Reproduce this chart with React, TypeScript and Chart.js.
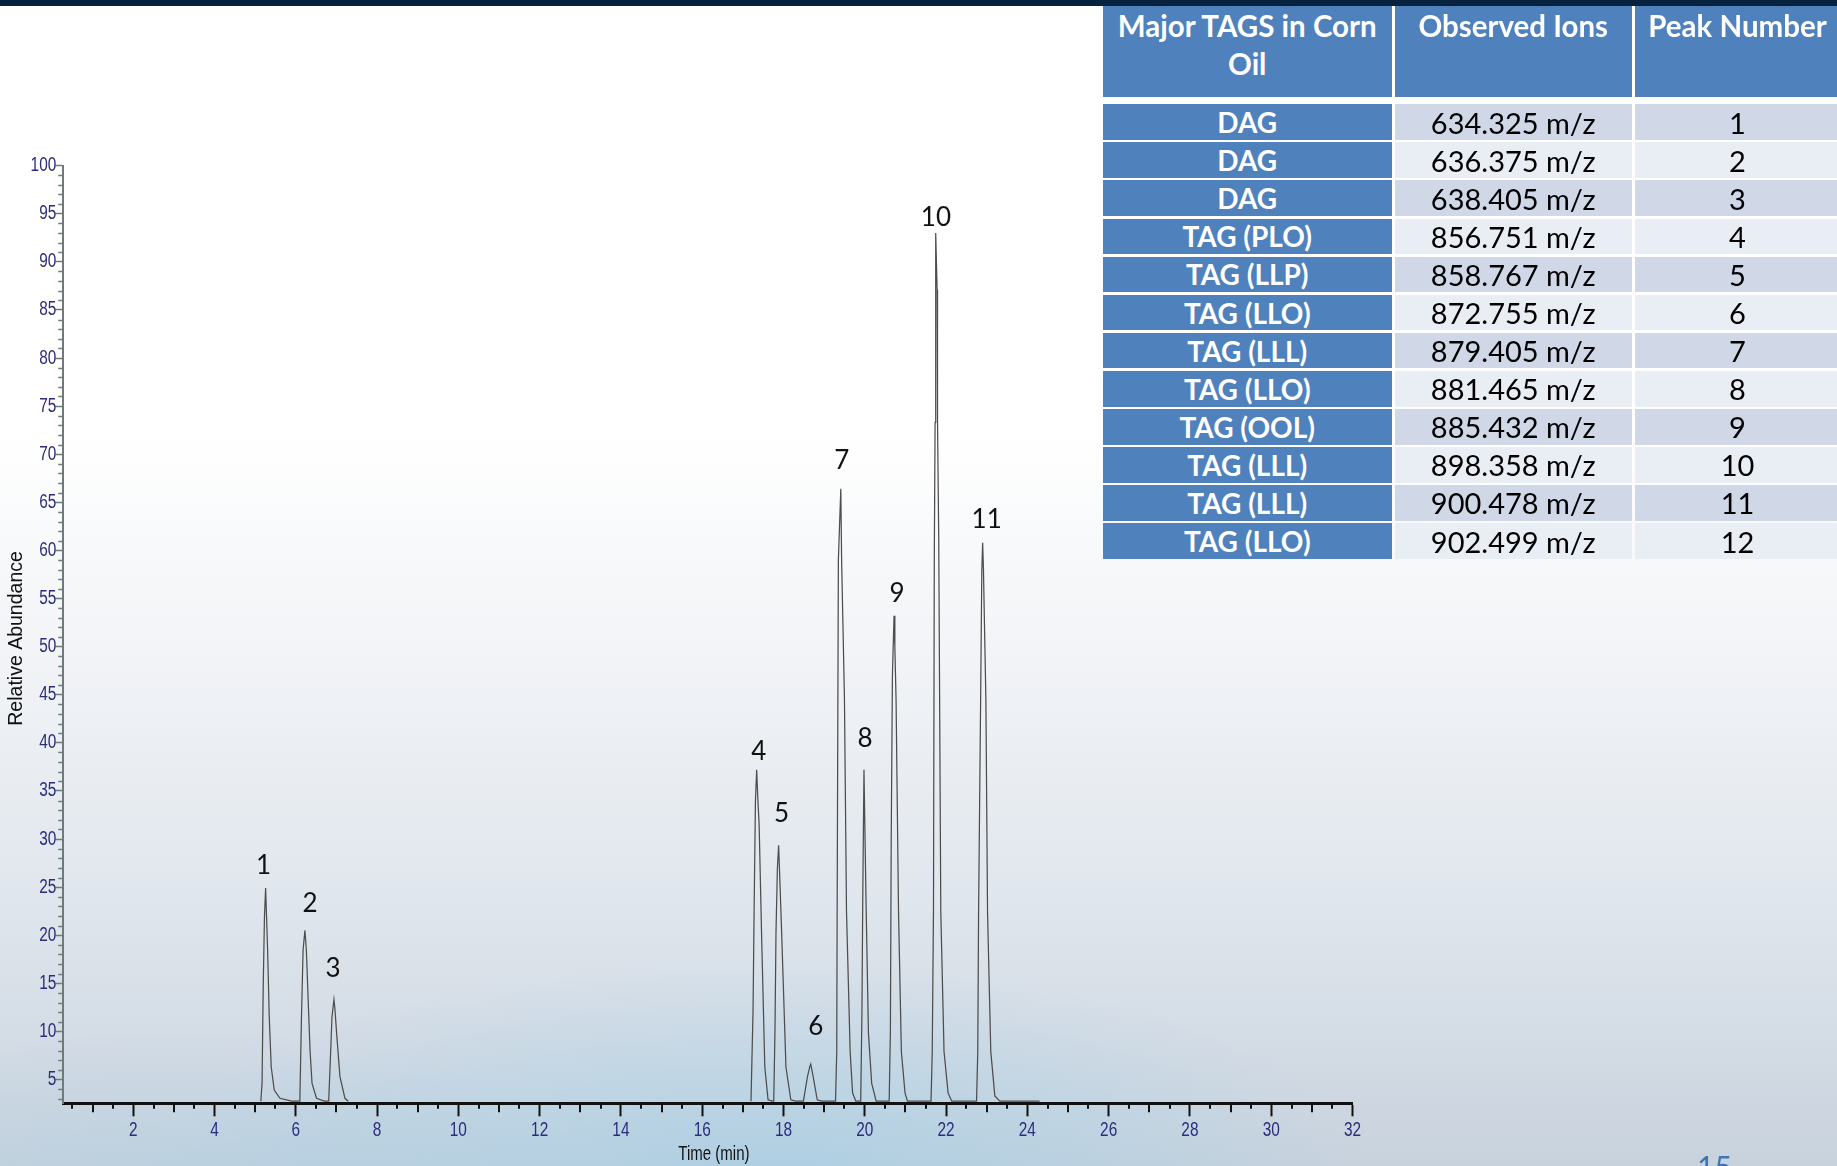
import React, { useEffect, useRef } from "react";
import { Chart, registerables } from "chart.js";

Chart.register(...registerables);

// Chromatogram trace, one list of [time (min), relative abundance] vertices per peak
const PEAK_1 = [[5.14, 2.75], [5.17, 4.6], [5.2, 15], [5.23, 22], [5.258, 24.9], [5.28, 22], [5.307, 18.5], [5.347, 11.5], [5.396, 6.3], [5.47, 3.9], [5.61, 3.05], [5.9, 2.75]];
const PEAK_2 = [[6.1, 2.75], [6.14, 11.5], [6.18, 18.5], [6.225, 20.5], [6.26, 18.5], [6.29, 15], [6.35, 8.1], [6.4, 4.6], [6.51, 3.05], [6.7, 2.75]];
const PEAK_3 = [[6.81, 2.75], [6.86, 8.1], [6.89, 11.5], [6.939, 13.3], [6.96, 12.5], [7.005, 9.8], [7.087, 5.3], [7.21, 3.05], [7.29, 2.75]];
const PEAK_4 = [[17.2, 2.75], [17.25, 12], [17.28, 23.7], [17.31, 34], [17.34, 37.2], [17.37, 34], [17.4, 31.6], [17.46, 20.2], [17.54, 6.3], [17.62, 2.9], [17.72, 2.75]];
const PEAK_5 = [[17.76, 2.75], [17.79, 10], [17.815, 20.2], [17.85, 27], [17.88, 29.35], [17.9, 27], [17.955, 20.2], [18.06, 6.3], [18.18, 2.9], [18.3, 2.75]];
const PEAK_6 = [[18.49, 2.75], [18.59, 5.3], [18.65, 6.4], [18.67, 6.6], [18.73, 5.3], [18.83, 2.9], [18.94, 2.75]];
const PEAK_7 = [[19.28, 2.75], [19.31, 7.9], [19.32, 22.5], [19.35, 59], [19.41, 66.4], [19.43, 59], [19.5, 44.5], [19.55, 22.5], [19.64, 7.9], [19.7, 3.6], [19.78, 2.75]];
const PEAK_8 = [[19.9, 2.75], [19.93, 12], [19.95, 23.7], [19.98, 37.2], [20.03, 23.7], [20.09, 9.8], [20.17, 4.6], [20.28, 2.75]];
const PEAK_9 = [[20.6, 2.75], [20.63, 10], [20.65, 29.8], [20.68, 47], [20.72, 53.2], [20.74, 50], [20.77, 44.4], [20.83, 22.5], [20.9, 7.9], [20.99, 3.6], [21.05, 2.75]];
const PEAK_10 = [[21.63, 2.75], [21.66, 7.9], [21.69, 22.5], [21.71, 59], [21.73, 73.3], [21.74, 87.1], [21.75, 93.0], [21.78, 87.1], [21.79, 73.3], [21.82, 61], [21.87, 22.5], [21.95, 7.9], [22.05, 3.6], [22.14, 2.75]];
const PEAK_11 = [[22.75, 2.75], [22.78, 7.9], [22.8, 22.5], [22.85, 44.4], [22.88, 58], [22.9, 60.8], [22.92, 58], [22.98, 44.4], [23.02, 22.5], [23.1, 7.9], [23.2, 3.3], [23.32, 2.75], [24.3, 2.75]];

const EARLY_PEAKS = [PEAK_1, PEAK_2, PEAK_3];
const LATE_PEAKS = [PEAK_4, PEAK_5, PEAK_6, PEAK_7, PEAK_8, PEAK_9, PEAK_10, PEAK_11];
const PEAK_NUMBERS = ["1", "2", "3", "4", "5", "6", "7", "8", "9", "10", "11"];

const X_TICKS = [2, 4, 6, 8, 10, 12, 14, 16, 18, 20, 22, 24, 26, 28, 30, 32];
const Y_TICKS = [5, 10, 15, 20, 25, 30, 35, 40, 45, 50, 55, 60, 65, 70, 75, 80, 85, 90, 95, 100];
const X_TITLE = "Time (min)";
const Y_TITLE = "Relative Abundance";

// Ion table
const TABLE_HEADERS = ["Major TAGS in Corn Oil", "Observed Ions", "Peak Number"];
const TAG_NAMES = ["DAG", "DAG", "DAG", "TAG (PLO)", "TAG (LLP)", "TAG (LLO)", "TAG (LLL)", "TAG (LLO)", "TAG (OOL)", "TAG (LLL)", "TAG (LLL)", "TAG (LLO)"];
const OBSERVED_IONS = ["634.325 m/z", "636.375 m/z", "638.405 m/z", "856.751 m/z", "858.767 m/z", "872.755 m/z", "879.405 m/z", "881.465 m/z", "885.432 m/z", "898.358 m/z", "900.478 m/z", "902.499 m/z"];
const TABLE_PEAK_NUMBERS = ["1", "2", "3", "4", "5", "6", "7", "8", "9", "10", "11", "12"];

// Layout / style
const NAVY = "#2b2d7c";
const AXIS_FONT = "20px 'Liberation Sans', Arial, sans-serif";
const CONDENSE = 0.77;
const LABEL_NUDGE = [[-2, -14], [5, -18], [-1, -23], [2, -10], [3, -23], [5, -29], [1, -20], [1, -23], [3, -14], [0, -7], [4, -15]];

const toPoints = (peaks: number[][][]) => peaks.flat().map(([x, y]) => ({ x, y }));

const traceData = [...toPoints(EARLY_PEAKS), { x: 12, y: null as any }, ...toPoints(LATE_PEAKS)];

// Condensed text helper (narrow axis lettering)
function narrowText(ctx: CanvasRenderingContext2D, text: string, x: number, y: number, align: CanvasTextAlign) {
  ctx.save();
  ctx.translate(x, y);
  ctx.scale(CONDENSE, 1);
  ctx.textAlign = align;
  ctx.fillText(text, 0, 0);
  ctx.restore();
}

const axisDecor = {
  id: "axisDecor",
  afterDraw(chart: any) {
    const { ctx, scales, chartArea } = chart;
    const xs = scales.x;
    const ys = scales.y;
    ctx.save();
    // minor ticks
    ctx.strokeStyle = "#111";
    ctx.lineWidth = 2;
    for (let k = 1; k < 64; k++) {
      if (k % 4 === 0) continue;
      const len = k % 2 === 0 ? 9 : 5.5;
      const px = Math.round(xs.getPixelForValue(k / 2));
      ctx.beginPath();
      ctx.moveTo(px, chartArea.bottom);
      ctx.lineTo(px, chartArea.bottom + len);
      ctx.stroke();
    }
    ctx.strokeStyle = "#6f7b7b";
    ctx.lineWidth = 1.5;
    for (let v = 3; v < 100; v++) {
      if (v % 5 === 0) continue;
      const py = Math.round(ys.getPixelForValue(v)) + 0.5;
      ctx.beginPath();
      ctx.moveTo(chartArea.left, py);
      ctx.lineTo(chartArea.left - 5, py);
      ctx.stroke();
    }
    // tick labels
    ctx.font = AXIS_FONT;
    ctx.fillStyle = NAVY;
    ctx.textBaseline = "middle";
    X_TICKS.forEach((v) => narrowText(ctx, String(v), xs.getPixelForValue(v), chartArea.bottom + 27.5, "center"));
    Y_TICKS.forEach((v) => narrowText(ctx, String(v), chartArea.left - 7, ys.getPixelForValue(v), "right"));
    // axis titles
    ctx.fillStyle = "#111";
    ctx.font = "19.5px 'Liberation Sans', Arial, sans-serif";
    narrowText(ctx, X_TITLE, (chartArea.left + chartArea.right) / 2 + 6, chartArea.bottom + 51, "center");
    ctx.save();
    ctx.translate(16.5, (chartArea.top + chartArea.bottom) / 2 + 4);
    ctx.rotate(-Math.PI / 2);
    ctx.textAlign = "center";
    ctx.fillText(Y_TITLE, 0, 0);
    ctx.restore();
    ctx.restore();
  },
};

const peakLabels = {
  id: "peakLabels",
  afterDatasetsDraw(chart: any) {
    const { ctx, scales } = chart;
    const peaks = [...EARLY_PEAKS, ...LATE_PEAKS];
    ctx.save();
    ctx.font = "26px Lato, 'Open Sans', sans-serif";
    ctx.fillStyle = "#111";
    ctx.textAlign = "center";
    ctx.textBaseline = "alphabetic";
    peaks.forEach((pk, i) => {
      const apex = pk.reduce((a, b) => (b[1] > a[1] ? b : a));
      const px = scales.x.getPixelForValue(apex[0]) + LABEL_NUDGE[i][0];
      const py = scales.y.getPixelForValue(apex[1]) + LABEL_NUDGE[i][1];
      ctx.fillText(PEAK_NUMBERS[i], px, py);
    });
    ctx.restore();
  },
};

function Chromatogram() {
  const ref = useRef<HTMLCanvasElement | null>(null);
  useEffect(() => {
    if (!ref.current) return;
    const chart = new Chart(ref.current, {
      type: "line",
      data: {
        datasets: [
          {
            data: traceData,
            borderColor: "#4d4d4d",
            borderWidth: 1.25,
            pointRadius: 0,
            tension: 0,
            spanGaps: false,
            fill: false,
          },
        ],
      },
      options: {
        responsive: false,
        animation: false,
        events: [],
        layout: { padding: { left: 0, top: 165.6, right: 484.5, bottom: 0 } },
        plugins: { legend: { display: false }, tooltip: { enabled: false } },
        scales: {
          x: {
            type: "linear",
            min: 0.28,
            max: 32,
            afterBuildTicks: (s: any) => {
              s.ticks = X_TICKS.map((value) => ({ value }));
            },
            afterFit: (s: any) => {
              s.height = 62.7;
            },
            grid: { drawOnChartArea: false, drawTicks: true, tickLength: 13, tickWidth: 2, tickColor: "#111" },
            border: { display: true, color: "#111", width: 3 },
            ticks: { display: false, autoSkip: false },
          },
          y: {
            type: "linear",
            min: 2.53,
            max: 100,
            afterBuildTicks: (s: any) => {
              s.ticks = Y_TICKS.map((value) => ({ value }));
            },
            afterFit: (s: any) => {
              s.width = 63.3;
            },
            grid: { drawOnChartArea: false, drawTicks: true, tickLength: 8, tickWidth: 1.5, tickColor: "#6f7b7b" },
            border: { display: true, color: "#6f7b7b", width: 2 },
            ticks: { display: false, autoSkip: false },
          },
        },
      },
      plugins: [axisDecor, peakLabels],
    });
    return () => chart.destroy();
  }, []);
  return <canvas ref={ref} width={1837} height={1166} style={{ position: "absolute", left: 0, top: 0 }} />;
}

const COLS = [
  { left: 1102.5, width: 289.5 },
  { left: 1395, width: 236.5 },
  { left: 1634.5, width: 206 },
];
const HEADER_TOP = 6;
const HEADER_H = 91;
const ROW_TOP = 104.3;
const ROW_PITCH = 38.08;
const ROW_GAP = 2.4;
const BLUE = "#4F81BD";

function IonTable() {
  const cells: React.ReactNode[] = [];
  TABLE_HEADERS.forEach((h, c) => {
    cells.push(
      <div
        key={"h" + c}
        style={{
          position: "absolute",
          left: COLS[c].left,
          top: HEADER_TOP,
          width: COLS[c].width,
          height: HEADER_H,
          background: BLUE,
          color: "#fff",
          fontWeight: 700,
          fontSize: 29.5,
          lineHeight: "38px",
          textAlign: "center",
          boxSizing: "border-box",
          padding: "1px 6px 0",
        }}
      >
        {h}
      </div>
    );
  });
  TAG_NAMES.forEach((name, r) => {
    const top = ROW_TOP + r * ROW_PITCH;
    const h = ROW_PITCH - ROW_GAP;
    const light = r % 2 === 0 ? "#D0D8E8" : "#E9EDF4";
    const row = [name, OBSERVED_IONS[r], TABLE_PEAK_NUMBERS[r]];
    row.forEach((text, c) => {
      cells.push(
        <div
          key={"r" + r + "c" + c}
          style={{
            position: "absolute",
            left: COLS[c].left,
            top,
            width: COLS[c].width,
            height: h,
            background: c === 0 ? BLUE : light,
            color: c === 0 ? "#fff" : "#000",
            fontWeight: c === 0 ? 700 : 400,
            fontSize: c === 0 ? 28 : 29,
            display: "flex",
            alignItems: "center",
            justifyContent: "center",
            whiteSpace: "nowrap",
          }}
        >
          {text}
        </div>
      );
    });
  });
  return <>{cells}</>;
}

export default function App() {
  return (
    <div
      style={{
        position: "fixed",
        left: 0,
        top: 0,
        width: 1837,
        height: 1166,
        overflow: "hidden",
        fontFamily: "Lato, 'Open Sans', sans-serif",
        background:
          "radial-gradient(ellipse 620px 230px at 760px 1190px, rgba(150,205,232,0.55), rgba(150,205,232,0)), " +
          "radial-gradient(ellipse 420px 160px at 180px 1190px, rgba(160,205,228,0.35), rgba(160,205,228,0)), " +
          "linear-gradient(180deg, #ffffff 0px, #ffffff 430px, #f2f4f7 650px, #e0e6ed 900px, #c8d2dd 1166px)",
      }}
    >
      <div style={{ position: "absolute", left: 0, top: 0, width: 1837, height: 6, background: "#07223f" }} />
      <Chromatogram />
      <IonTable />
      <div
        style={{
          position: "absolute",
          left: 1697,
          top: 1151,
          fontSize: 30,
          lineHeight: "30px",
          color: "#3f74b8",
        }}
      >
        15
      </div>
    </div>
  );
}
